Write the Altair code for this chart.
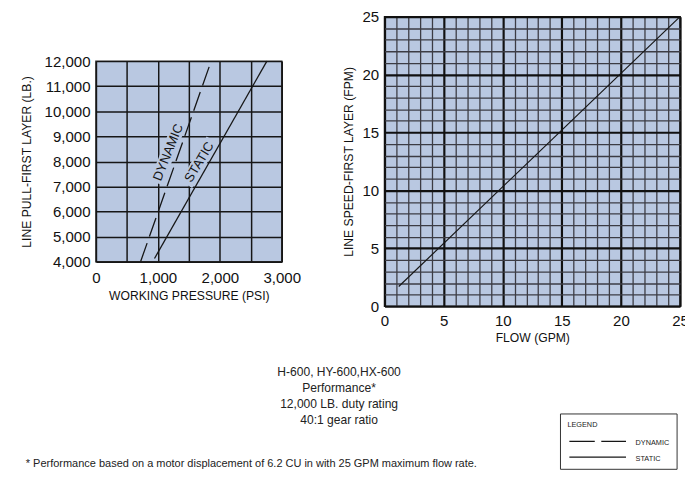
import altair as alt
import pandas as pd

# ---------------- data ----------------
# left chart: line pull vs working pressure
dyn_psi = [720, 1860]
dyn_lb = [4000, 12000]
stat_psi = [945, 2760]
stat_lb = [4130, 12000]
left_x_grid = [0, 500, 1000, 1500, 2000, 2500, 3000]
left_y_grid = [4000, 5000, 6000, 7000, 8000, 9000, 10000, 11000, 12000]

# in-plot labels (text, position, angle) and their knock-out bands
label_text = ["DYNAMIC", "STATIC"]
label_psi = [1167, 1670]
label_lb = [8365, 7970]
label_angle = [292, 301]
knock_key = ["DYNAMIC", "DYNAMIC", "STATIC", "STATIC"]
knock_psi = [970, 1364, 1457, 1883]
knock_lb = [7150, 9580, 7085, 8855]

# right chart: line speed vs flow
flow = [1.2, 25]
speed = [1.7, 25]
right_grid = list(range(0, 26))

info_lines = ["H-600, HY-600,HX-600", "Performance*", "12,000 LB. duty rating", "40:1 gear ratio"]
footnote = "* Performance based on a motor displacement of 6.2 CU in with 25 GPM maximum flow rate."
legend_title = "LEGEND"
legend_items = ["DYNAMIC", "STATIC"]

# ---------------- style ----------------
BG = "#B9C8E1"
INK = "#161616"
FONT = "Liberation Sans, Arial, sans-serif"

one = pd.DataFrame({"k": [0]})

# ---------------- left chart ----------------
lx = alt.X("x:Q", scale=alt.Scale(domain=[0, 3000], nice=False, zero=False),
           axis=alt.Axis(values=left_x_grid,
                         labelExpr="datum.value % 1000 === 0 ? format(datum.value, ',') : ''",
                         title="WORKING PRESSURE (PSI)", ticks=False, domain=False,
                         labelFlush=False, labelOverlap=False, labelPadding=9, titlePadding=4,
                         gridColor=INK, gridWidth=1.5))
ly = alt.Y("y:Q", scale=alt.Scale(domain=[4000, 12000], nice=False, zero=False),
           axis=alt.Axis(values=left_y_grid, labelExpr="format(datum.value, ',')",
                         title="LINE PULL-FIRST LAYER (LB.)",
                         ticks=False, domain=False, labelOverlap=False, labelPadding=6,
                         titlePadding=11, gridColor=INK, gridWidth=1.5))

knock_df = pd.DataFrame({"x": knock_psi, "y": knock_lb, "g": knock_key})
dyn_df = pd.DataFrame({"x": dyn_psi, "y": dyn_lb})
stat_df = pd.DataFrame({"x": stat_psi, "y": stat_lb})
lab_df = pd.DataFrame({"x": label_psi, "y": label_lb, "t": label_text, "a": label_angle})

knock = alt.Chart(knock_df).mark_line(color=BG, strokeWidth=14, strokeCap="butt").encode(
    x=lx, y=ly, detail="g:N")
dyn_line = alt.Chart(dyn_df).mark_line(color=INK, strokeWidth=1.3, strokeDash=[20, 7]).encode(x=lx, y=ly)
stat_line = alt.Chart(stat_df).mark_line(color=INK, strokeWidth=1.3).encode(x=lx, y=ly)
labels = alt.Chart(lab_df).mark_text(font=FONT, fontSize=13.2, color=INK,
                                     align="center", baseline="middle").encode(
    x=lx, y=ly, text="t:N", angle=alt.Angle("a:Q", scale=None))

left = alt.layer(knock, dyn_line, stat_line, labels).properties(
    width=188, height=203,
    view=alt.ViewBackground(fill=BG, stroke="#2a2a2a", strokeWidth=1.5))

# ---------------- right chart ----------------
major_w = {"condition": {"test": "datum.value % 5 === 0", "value": 2.2}, "value": 1.3}
major_c = {"condition": {"test": "datum.value % 5 === 0", "value": "#111111"}, "value": "#3c3c44"}
rx = alt.X("x:Q", scale=alt.Scale(domain=[0, 25], nice=False, zero=False),
           axis=alt.Axis(values=right_grid,
                         labelExpr="datum.value % 5 === 0 ? datum.label : ''",
                         title="FLOW (GPM)", ticks=False, domain=False, labelFlush=False,
                         labelOverlap=False, labelPadding=7, titlePadding=3,
                         gridWidth=major_w, gridColor=major_c))
ry = alt.Y("y:Q", scale=alt.Scale(domain=[0, 25], nice=False, zero=False),
           axis=alt.Axis(values=right_grid,
                         labelExpr="datum.value % 5 === 0 ? datum.label : ''",
                         title="LINE SPEED-FIRST LAYER (FPM)", ticks=False, domain=False,
                         labelOverlap=False, labelPadding=6, titlePadding=7,
                         gridWidth=major_w, gridColor=major_c))

speed_df = pd.DataFrame({"x": flow, "y": speed})
speed_line = alt.Chart(speed_df).mark_line(color=INK, strokeWidth=1.2).encode(x=rx, y=ry)

info = alt.Chart(one).mark_text(font=FONT, fontSize=12.2, lineHeight=16.2, align="center",
                                baseline="alphabetic", color="#222").encode(
    x=alt.value(-46), y=alt.value(364), text=alt.value(info_lines))
foot = alt.Chart(one).mark_text(font=FONT, fontSize=11.1, align="left",
                                baseline="alphabetic", color="#222").encode(
    x=alt.value(-363), y=alt.value(456), text=alt.value(footnote))
leg_box = alt.Chart(one).mark_rect(fill="white", stroke="#333", strokeWidth=1).encode(
    x=alt.value(178), x2=alt.value(296), y=alt.value(402), y2=alt.value(458))
leg_title = alt.Chart(one).mark_text(font=FONT, fontSize=7.4, align="left",
                                     baseline="alphabetic", color="#222").encode(
    x=alt.value(185), y=alt.value(415.7), text=alt.value(legend_title))
leg_dash = alt.Chart(one).mark_rule(color=INK, strokeWidth=1.2, strokeDash=[25.7, 6.6]).encode(
    x=alt.value(187), x2=alt.value(244.3), y=alt.value(429.7))
leg_solid = alt.Chart(one).mark_rule(color=INK, strokeWidth=1.2).encode(
    x=alt.value(187), x2=alt.value(244.3), y=alt.value(445.7))
leg_t1 = alt.Chart(one).mark_text(font=FONT, fontSize=7.4, align="left",
                                  baseline="alphabetic", color="#222").encode(
    x=alt.value(254), y=alt.value(433.3), text=alt.value(legend_items[0]))
leg_t2 = alt.Chart(one).mark_text(font=FONT, fontSize=7.4, align="left",
                                  baseline="alphabetic", color="#222").encode(
    x=alt.value(254), y=alt.value(450), text=alt.value(legend_items[1]))

right = alt.layer(speed_line, info, foot, leg_box, leg_title, leg_dash, leg_solid,
                  leg_t1, leg_t2).properties(
    width=299, height=293,
    view=alt.ViewBackground(fill=BG, stroke="#111", strokeWidth=1.5))

# autosize "none": the SVG is exactly padding-sized, with the layout origin at (left, top)
chart = alt.hconcat(left, right, spacing=104, bounds="flush", center=True).properties(
    padding={"left": 89, "top": 6, "right": 596, "bottom": 460},
    autosize=alt.AutoSizeParams(type="none"),
    background="white",
).configure_axis(
    labelFont=FONT, labelFontSize=15.2, labelColor="#111",
    titleFont=FONT, titleFontSize=12.3, titleFontWeight="normal", titleColor="#111",
).configure_view(stroke="#222")

chart.save("out.html", embed_options={"renderer": "svg", "actions": False})
